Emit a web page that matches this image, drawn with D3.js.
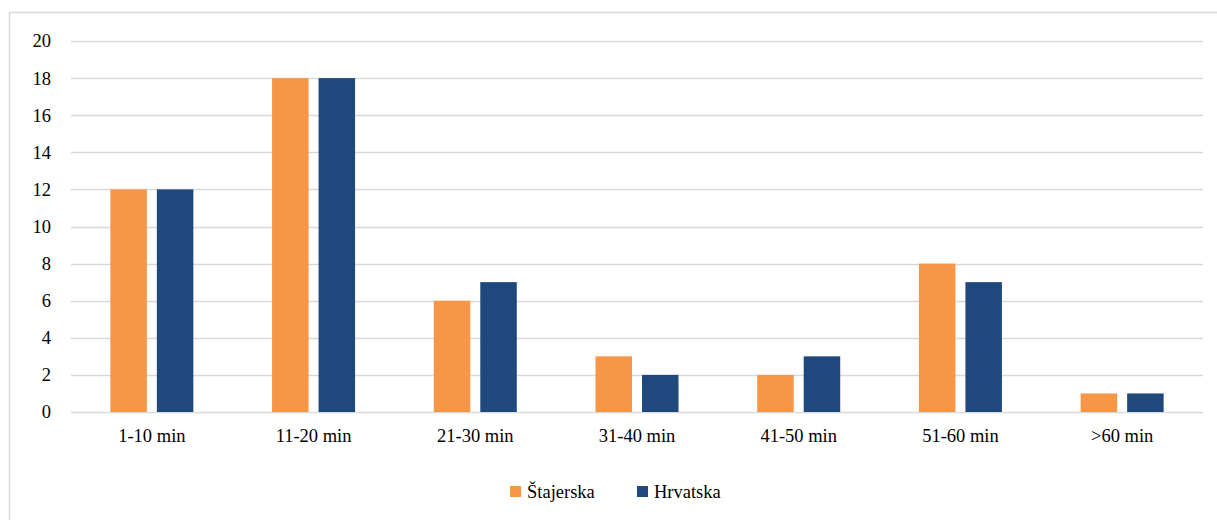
<!DOCTYPE html>
<html>
<head>
<meta charset="utf-8">
<script src="https://cdn.jsdelivr.net/npm/d3@7"></script>
</head>
<body style="margin:0;padding:0;background:#fff">
<svg id="s" width="1217" height="520"></svg>
<script>
// Travel-time categories and counts per region
const categories = ["1-10 min", "11-20 min", "21-30 min", "31-40 min", "41-50 min", "51-60 min", ">60 min"];
const seriesNames = ["Štajerska", "Hrvatska"];
const stajerska = [12, 18, 6, 3, 2, 8, 1];
const hrvatska = [12, 18, 7, 2, 3, 7, 1];
const yTicks = [0, 2, 4, 6, 8, 10, 12, 14, 16, 18, 20];
const colors = ["#F79646", "#1F497D"];

const FONT = "Liberation Serif";
const FSIZE = 18.5;

const svg = d3.select("#s");
const W = 1217, H = 520;
const plot = { left: 71, right: 1203, top: 41, bottom: 412 };

// chart frame
svg.append("rect")
  .attr("x", 9.5).attr("y", 12.5)
  .attr("width", W).attr("height", H)
  .attr("fill", "#fff").attr("stroke", "#D9D9D9").attr("stroke-width", 1.5);

const x0 = d3.scaleBand().domain(categories).range([plot.left, plot.right]).padding(0);
const x1 = d3.scaleBand().domain(seriesNames).range([-41.5, 41.5]).paddingInner(0.215);
const y = d3.scaleLinear().domain([0, 20]).range([plot.bottom, plot.top]);

// horizontal gridlines
svg.append("g").selectAll("line").data(yTicks).join("line")
  .attr("x1", plot.left).attr("x2", plot.right)
  .attr("y1", d => Math.round(y(d)) + 0.5).attr("y2", d => Math.round(y(d)) + 0.5)
  .attr("stroke", "#D9D9D9").attr("stroke-width", 1.5);

// y-axis labels
const gy = svg.append("g").attr("transform", "translate(51,0)")
  .call(d3.axisLeft(y).tickValues(yTicks).tickSize(0).tickPadding(0));
gy.attr("font-family", FONT).attr("font-size", FSIZE);
gy.select(".domain").remove();
gy.selectAll("text").attr("fill", "#000");

// bars
const data = categories.map((c, i) => ({ cat: c, values: [stajerska[i], hrvatska[i]] }));
const groups = svg.append("g").selectAll("g").data(data).join("g")
  .attr("transform", d => `translate(${x0(d.cat) + x0.bandwidth() / 2},0)`);
groups.selectAll("rect").data(d => d.values.map((v, k) => ({ name: seriesNames[k], v, k })))
  .join("rect")
  .attr("x", d => x1(d.name))
  .attr("width", x1.bandwidth())
  .attr("y", d => y(d.v))
  .attr("height", d => y(0) - y(d.v))
  .attr("fill", d => colors[d.k]);

// x-axis labels
const gx = svg.append("g").attr("transform", `translate(0,${plot.bottom + 17})`)
  .call(d3.axisBottom(x0).tickSize(0).tickPadding(0));
gx.attr("font-family", FONT).attr("font-size", FSIZE);
gx.select(".domain").remove();
gx.selectAll("text").attr("fill", "#000");

// legend
const legend = svg.append("g").attr("transform", "translate(510,486)");
const items = [{ name: seriesNames[0], x: 0 }, { name: seriesNames[1], x: 127 }];
items.forEach((it, k) => {
  legend.append("rect").attr("x", it.x).attr("y", 0).attr("width", 11).attr("height", 11).attr("fill", colors[k]);
  legend.append("text").attr("x", it.x + 17).attr("y", 12)
    .attr("font-family", FONT).attr("font-size", FSIZE).attr("fill", "#000")
    .text(it.name);
});
</script>
</body>
</html>
